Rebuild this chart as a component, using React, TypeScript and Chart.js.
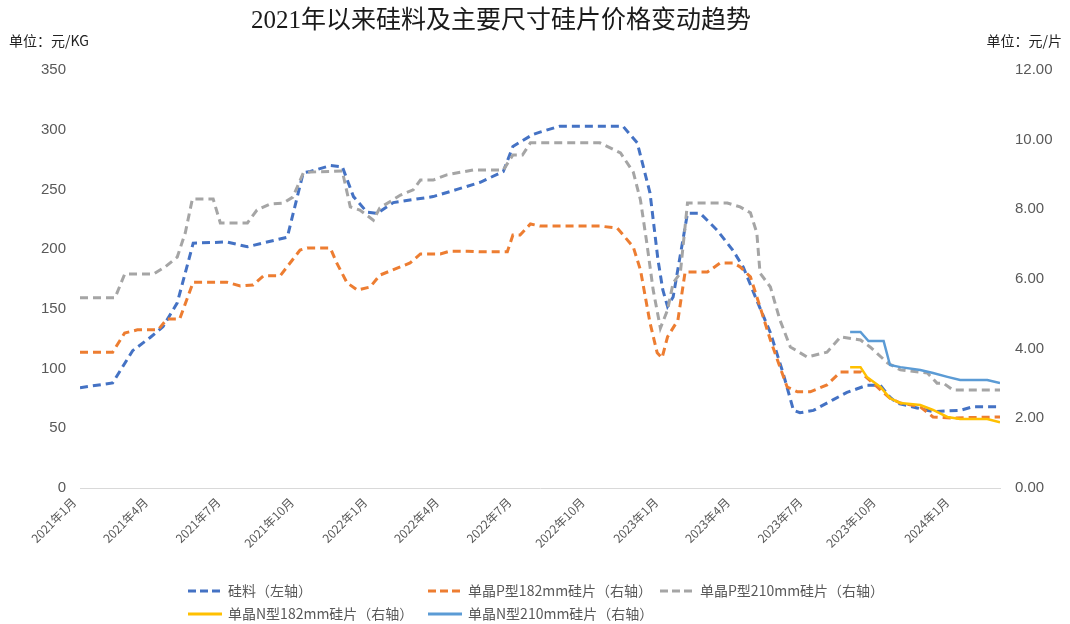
import React, { useEffect, useRef } from "react";
import { Chart, registerables } from "chart.js";

Chart.register(...registerables);

// ---------- Data ----------
const chartTitle = "2021年以来硅料及主要尺寸硅片价格变动趋势";
const leftUnit = "单位：元/KG";
const rightUnit = "单位：元/片";

const tickDates = [
  "2021-01-01", "2021-04-01", "2021-07-01", "2021-10-01",
  "2022-01-01", "2022-04-01", "2022-07-01", "2022-10-01",
  "2023-01-01", "2023-04-01", "2023-07-01", "2023-10-01",
  "2024-01-01",
];
const tickLabels = [
  "2021年1月", "2021年4月", "2021年7月", "2021年10月",
  "2022年1月", "2022年4月", "2022年7月", "2022年10月",
  "2023年1月", "2023年4月", "2023年7月", "2023年10月",
  "2024年1月",
];
const axisEndDate = "2024-02-29";

const leftTicksMax = 350;
const leftStep = 50;
const rightTicksMax = 12;
const rightStep = 2;

// 硅料（左轴）
const siliconDates = [
  "2021-01-01", "2021-02-11", "2021-03-08", "2021-03-30", "2021-04-15", "2021-05-03",
  "2021-05-23", "2021-07-04", "2021-07-30", "2021-09-18", "2021-10-08", "2021-10-17",
  "2021-11-11", "2021-11-26", "2021-12-10", "2021-12-27", "2022-01-09", "2022-01-29",
  "2022-03-20", "2022-04-19", "2022-05-18", "2022-06-16", "2022-06-28", "2022-07-23",
  "2022-08-01", "2022-08-26", "2022-11-13", "2022-12-01", "2022-12-17", "2022-12-27",
  "2023-01-02", "2023-01-08", "2023-01-15", "2023-02-02", "2023-02-18", "2023-03-11",
  "2023-03-31", "2023-04-13", "2023-04-30", "2023-05-17", "2023-06-02", "2023-06-15",
  "2023-06-23", "2023-07-10", "2023-08-04", "2023-08-21", "2023-09-15", "2023-10-02",
  "2023-10-14", "2023-10-23", "2023-11-17", "2023-12-07", "2024-01-10", "2024-01-26",
  "2024-02-29",
];
const siliconValues = [
  84, 88, 115, 126, 135, 155,
  205, 206, 202, 210, 264, 265,
  270, 269, 244, 231, 230, 239,
  244, 250, 256, 265, 286, 296,
  298, 303, 303, 289, 247, 191,
  166, 152, 160, 230, 230, 216,
  199, 185, 157, 130, 96, 65,
  63, 65, 74, 80, 86, 86,
  76, 71, 67, 64, 65, 68,
  68,
];

// 单晶P型182mm硅片（右轴）
const p182Dates = [
  "2021-01-01", "2021-02-11", "2021-02-26", "2021-03-14", "2021-04-09", "2021-04-20",
  "2021-05-06", "2021-05-23", "2021-07-04", "2021-07-21", "2021-08-06", "2021-08-19",
  "2021-09-09", "2021-10-04", "2021-10-13", "2021-11-11", "2021-11-19", "2021-12-02",
  "2021-12-15", "2021-12-31", "2022-01-12", "2022-02-07", "2022-02-19", "2022-03-04",
  "2022-03-29", "2022-04-10", "2022-05-02", "2022-05-18", "2022-06-21", "2022-06-28",
  "2022-07-07", "2022-07-20", "2022-08-01", "2022-10-15", "2022-11-06", "2022-11-26",
  "2022-12-05", "2022-12-17", "2022-12-26", "2023-01-01", "2023-01-08", "2023-01-21",
  "2023-01-30", "2023-02-27", "2023-03-15", "2023-03-31", "2023-04-09", "2023-04-22",
  "2023-05-04", "2023-05-17", "2023-05-29", "2023-06-07", "2023-06-20", "2023-07-06",
  "2023-07-27", "2023-08-13", "2023-09-07", "2023-09-28", "2023-10-14", "2023-10-27",
  "2023-11-21", "2023-12-07", "2023-12-29", "2024-02-29",
];
const p182Values = [
  3.90, 3.90, 4.45, 4.54, 4.54, 4.85,
  4.85, 5.91, 5.91, 5.80, 5.83, 6.09,
  6.09, 6.83, 6.89, 6.89, 6.46, 5.89,
  5.68, 5.77, 6.11, 6.35, 6.46, 6.72,
  6.72, 6.80, 6.80, 6.78, 6.78, 7.26,
  7.26, 7.58, 7.52, 7.52, 7.46, 6.92,
  6.26, 4.74, 3.88, 3.73, 4.34, 4.82,
  6.20, 6.20, 6.46, 6.46, 6.35, 6.06,
  5.20, 4.25, 3.47, 2.90, 2.76, 2.76,
  2.96, 3.33, 3.33, 2.90, 2.58, 2.44,
  2.33, 2.04, 2.01, 2.04,
];

// 单晶P型210mm硅片（右轴）
const p210Dates = [
  "2021-01-01", "2021-02-14", "2021-02-26", "2021-04-03", "2021-04-18", "2021-05-03",
  "2021-05-13", "2021-05-22", "2021-06-17", "2021-06-26", "2021-07-30", "2021-08-11",
  "2021-08-27", "2021-09-13", "2021-09-25", "2021-10-08", "2021-10-17", "2021-11-26",
  "2021-12-06", "2021-12-18", "2022-01-04", "2022-01-12", "2022-02-07", "2022-02-23",
  "2022-03-04", "2022-03-20", "2022-04-06", "2022-05-09", "2022-06-16", "2022-06-28",
  "2022-07-10", "2022-07-20", "2022-10-15", "2022-11-10", "2022-11-26", "2022-12-05",
  "2022-12-13", "2022-12-21", "2022-12-30", "2023-01-08", "2023-01-15", "2023-01-24",
  "2023-02-02", "2023-03-24", "2023-04-09", "2023-04-22", "2023-04-30", "2023-05-04",
  "2023-05-17", "2023-05-29", "2023-06-11", "2023-07-02", "2023-07-27", "2023-08-13",
  "2023-09-07", "2023-09-19", "2023-10-11", "2023-10-27", "2023-11-30", "2023-12-12",
  "2023-12-20", "2024-01-01", "2024-02-29",
];
const p210Values = [
  5.46, 5.46, 6.14, 6.14, 6.35, 6.63,
  7.32, 8.30, 8.30, 7.61, 7.61, 7.98,
  8.15, 8.18, 8.35, 9.04, 9.07, 9.10,
  8.07, 7.98, 7.69, 8.04, 8.41, 8.56,
  8.84, 8.84, 8.99, 9.13, 9.13, 9.56,
  9.56, 9.91, 9.91, 9.62, 9.07, 8.27,
  7.03, 5.68, 4.59, 5.11, 5.89, 6.17,
  8.18, 8.18, 8.07, 7.90, 7.32, 6.17,
  5.77, 4.82, 4.05, 3.76, 3.90, 4.34,
  4.25, 4.05, 3.59, 3.39, 3.30, 3.01,
  3.01, 2.81, 2.81,
];

// 单晶N型182mm硅片（右轴）
const n182Dates = [
  "2023-08-25", "2023-09-07", "2023-09-15", "2023-10-02", "2023-10-14", "2023-10-27",
  "2023-11-21", "2023-12-07", "2023-12-25", "2024-01-10", "2024-02-13", "2024-02-29",
];
const n182Values = [3.47, 3.47, 3.19, 2.90, 2.58, 2.44, 2.38, 2.24, 2.04, 1.98, 1.98, 1.89];

// 单晶N型210mm硅片（右轴）
const n210Dates = [
  "2023-08-25", "2023-09-07", "2023-09-17", "2023-10-06", "2023-10-14", "2023-10-27",
  "2023-11-21", "2023-12-07", "2023-12-25", "2024-01-10", "2024-02-13", "2024-02-29",
];
const n210Values = [4.48, 4.48, 4.22, 4.22, 3.53, 3.47, 3.39, 3.30, 3.19, 3.10, 3.10, 3.01];

const seriesNames = [
  "硅料（左轴）",
  "单晶P型182mm硅片（右轴）",
  "单晶P型210mm硅片（右轴）",
  "单晶N型182mm硅片（右轴）",
  "单晶N型210mm硅片（右轴）",
];
const seriesColors = ["#4472C4", "#ED7D31", "#A5A5A5", "#FFC000", "#5B9BD5"];

// ---------- Helpers ----------
const DAY0 = Date.UTC(2021, 0, 1);
const toDay = (s: string) => {
  const [y, m, d] = s.split("-").map(Number);
  return (Date.UTC(y, m - 1, d) - DAY0) / 86400000;
};
const pts = (dates: string[], vals: number[]) =>
  dates.map((d, i) => ({ x: toDay(d), y: vals[i] }));

const W = 1070;
const H = 624;
const CJK = "'Noto Sans CJK SC', 'Liberation Sans', sans-serif";
const DASH = [8, 5];

const overlayPlugin = {
  id: "overlayText",
  afterDraw(chart: any) {
    const ctx = chart.ctx as CanvasRenderingContext2D;
    ctx.save();
    // title
    ctx.fillStyle = "#1a1a1a";
    ctx.font = "25px 'Liberation Serif', 'Noto Sans CJK SC', serif";
    ctx.textAlign = "center";
    ctx.textBaseline = "middle";
    ctx.fillText(chartTitle, 501, 21);
    // units
    ctx.font = "14px " + CJK;
    ctx.fillStyle = "#222";
    ctx.textAlign = "left";
    ctx.fillText(leftUnit, 9, 41);
    ctx.textAlign = "right";
    ctx.fillText(rightUnit, 1062, 41);

    // legend
    const items = [
      { i: 0, x: 188, y: 591 },
      { i: 1, x: 428, y: 591 },
      { i: 2, x: 660, y: 591 },
      { i: 3, x: 188, y: 614 },
      { i: 4, x: 428, y: 614 },
    ];
    ctx.font = "14px " + CJK;
    ctx.textAlign = "left";
    ctx.textBaseline = "middle";
    items.forEach(({ i, x, y }) => {
      ctx.beginPath();
      ctx.strokeStyle = seriesColors[i];
      ctx.lineWidth = 3;
      ctx.setLineDash(i < 3 ? [8, 4] : []);
      ctx.moveTo(x, y);
      ctx.lineTo(x + 34, y);
      ctx.stroke();
      ctx.setLineDash([]);
      ctx.fillStyle = "#595959";
      ctx.fillText(seriesNames[i], x + 40, y);
    });
    ctx.restore();
  },
};

export default function App() {
  const ref = useRef<HTMLCanvasElement | null>(null);

  useEffect(() => {
    if (!ref.current) return;
    const tickFont = { family: "'Liberation Sans', 'Noto Sans CJK SC', sans-serif", size: 15 };
    const mk = (i: number, data: any[], axis: string, dashed: boolean) => ({
      label: seriesNames[i],
      data,
      yAxisID: axis,
      borderColor: seriesColors[i],
      backgroundColor: seriesColors[i],
      borderWidth: dashed ? 3 : 2.5,
      borderDash: dashed ? DASH : [],
      pointRadius: 0,
      tension: 0,
      fill: false,
    });
    const chart = new Chart(ref.current, {
      type: "line",
      data: {
        datasets: [
          mk(4, pts(n210Dates, n210Values), "y1", false),
          mk(3, pts(n182Dates, n182Values), "y1", false),
          mk(2, pts(p210Dates, p210Values), "y1", true),
          mk(1, pts(p182Dates, p182Values), "y1", true),
          mk(0, pts(siliconDates, siliconValues), "y", true),
        ],
      },
      options: {
        animation: false,
        responsive: false,
        maintainAspectRatio: false,
        layout: { padding: { top: 70, left: 0, right: 0, bottom: 0 } },
        plugins: {
          legend: { display: false },
          title: { display: false },
          tooltip: { enabled: false },
        },
        scales: {
          x: {
            type: "linear",
            min: 0,
            max: toDay(axisEndDate),
            grid: { display: false, drawTicks: false },
            border: { display: true, color: "#d9d9d9", width: 1 },
            afterBuildTicks: (axis: any) => {
              axis.ticks = tickDates.map((d) => ({ value: toDay(d) }));
            },
            afterFit: (axis: any) => {
              axis.height = H - 488;
            },
            ticks: {
              autoSkip: false,
              minRotation: 45,
              maxRotation: 45,
              padding: 7,
              labelOffset: -6,
              color: "#595959",
              font: { family: CJK, size: 12 },
              callback: (_v: any, i: number) => tickLabels[i],
            },
          },
          y: {
            position: "left",
            min: 0,
            max: leftTicksMax,
            grid: { display: false, drawTicks: false },
            border: { display: false },
            afterFit: (axis: any) => {
              axis.width = 80;
            },
            ticks: {
              stepSize: leftStep,
              padding: 14,
              color: "#595959",
              font: tickFont,
            },
          },
          y1: {
            position: "right",
            min: 0,
            max: rightTicksMax,
            grid: { display: false, drawTicks: false },
            border: { display: false },
            afterFit: (axis: any) => {
              axis.width = W - 1000;
            },
            ticks: {
              stepSize: rightStep,
              padding: 15,
              color: "#595959",
              font: tickFont,
              callback: (v: any) => Number(v).toFixed(2),
            },
          },
        },
      } as any,
      plugins: [overlayPlugin],
    });
    return () => chart.destroy();
  }, []);

  return (
    <div style={{ position: "absolute", left: 0, top: 0, width: W, height: H, background: "#fff" }}>
      <canvas ref={ref} width={W} height={H} style={{ width: W, height: H, display: "block" }} />
    </div>
  );
}
